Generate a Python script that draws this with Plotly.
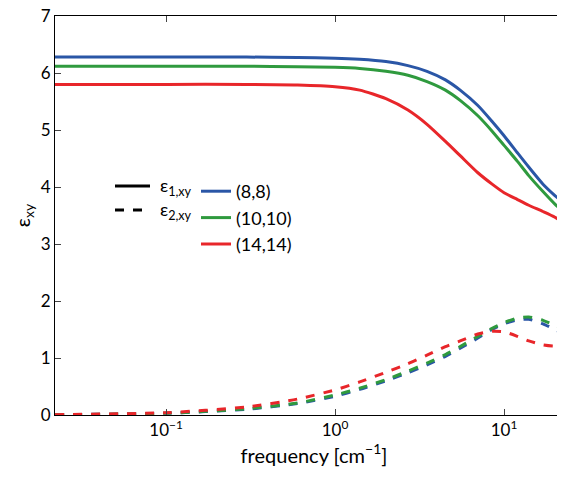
import plotly.graph_objects as go

freq = [0.022, 0.1, 0.3, 0.6, 1.0, 1.4, 2.0, 2.7, 3.5, 4.5, 5.5, 7.0, 8.5, 10.0, 12.0, 14.0, 17.0, 20.0, 25.6]

eps1_8 = [6.28, 6.28, 6.28, 6.27, 6.26, 6.24, 6.2, 6.13, 6.03, 5.88, 5.7, 5.43, 5.15, 4.9, 4.6, 4.35, 4.05, 3.85, 3.58]
eps1_10 = [6.12, 6.12, 6.12, 6.11, 6.1, 6.08, 6.03, 5.96, 5.85, 5.7, 5.52, 5.25, 4.98, 4.73, 4.45, 4.2, 3.92, 3.7, 3.42]
eps1_14 = [5.8, 5.8, 5.8, 5.79, 5.76, 5.7, 5.55, 5.35, 5.1, 4.8, 4.55, 4.25, 4.05, 3.9, 3.78, 3.68, 3.57, 3.47, 3.27]

eps2_8 = [0.005, 0.03, 0.1, 0.2, 0.33, 0.45, 0.6, 0.74, 0.88, 1.03, 1.17, 1.35, 1.5, 1.6, 1.67, 1.68, 1.6, 1.5, 1.35]
eps2_10 = [0.005, 0.03, 0.11, 0.21, 0.35, 0.47, 0.62, 0.77, 0.91, 1.06, 1.2, 1.38, 1.52, 1.62, 1.7, 1.72, 1.66, 1.57, 1.42]
eps2_14 = [0.005, 0.04, 0.14, 0.28, 0.44, 0.58, 0.75, 0.9, 1.05, 1.2, 1.3, 1.42, 1.47, 1.46, 1.38, 1.3, 1.23, 1.21, 1.27]

labels = ["(8,8)", "(10,10)", "(14,14)"]
colors = ["#2a56a6", "#2f9a3e", "#e8262a"]

# plot box in screen pixels: top 16, bottom 415
def py(yy):
    return (415 - yy) / 399

fig = go.Figure()
for lab, c, y1, y2 in zip(labels, colors, [eps1_8, eps1_10, eps1_14], [eps2_8, eps2_10, eps2_14]):
    fig.add_trace(go.Scatter(x=freq, y=y1, mode="lines", name=lab,
                             line=dict(color=c, width=3, shape="spline", smoothing=0.6)))
    fig.add_trace(go.Scatter(x=freq, y=y2, mode="lines", showlegend=False,
                             line=dict(color=c, width=3, dash="dash", shape="spline", smoothing=0.6)))

# black line-style key
for yy, dash, txt in [(186, "solid", "ε<sub>1,xy</sub>"), (210, "dash", "ε<sub>2,xy</sub>")]:
    fig.add_shape(type="line", xref="paper", yref="paper",
                  x0=(107 - 47) / 518, x1=(142 - 47) / 518, y0=py(yy), y1=py(yy),
                  line=dict(color="black", width=3, dash=dash))
    fig.add_annotation(xref="paper", yref="paper", x=(150 - 47) / 518, y=py(yy),
                       text=txt, showarrow=False, xanchor="left", yanchor="middle",
                       font=dict(size=18, color="black"))

fig.update_layout(
    width=565, height=476,
    margin=dict(l=47, r=0, t=8, b=69, autoexpand=False),
    plot_bgcolor="white", paper_bgcolor="white",
    font=dict(family="Lato", size=17, color="black"),
    legend=dict(x=(188 - 47) / 518, y=py(173), xanchor="left", yanchor="top",
                bgcolor="rgba(0,0,0,0)", font=dict(size=18), tracegroupgap=0),
    xaxis=dict(type="log", range=[-1.657, 1.408], tickvals=[0.1, 1, 10],
               ticktext=["10<sup>−1</sup>", "10<sup>0</sup>", "10<sup>1</sup>"],
               ticks="inside", ticklen=6, showline=True, linecolor="black", mirror="ticks",
               showgrid=False, zeroline=False, automargin=False,
               title=dict(text="frequency [cm<sup>−1</sup>]", standoff=8)),
    yaxis=dict(range=[-0.0001, 7.0001], tickvals=[0, 1, 2, 3, 4, 5, 6, 7], ticks="inside", ticklen=6,
               showline=True, linecolor="black", mirror="ticks", showgrid=False,
               zeroline=False, automargin=False, ticklabeloverflow="allow",
               title=dict(text="ε<sub>xy</sub>", standoff=4)),
)
fig.write_html("out.html")
